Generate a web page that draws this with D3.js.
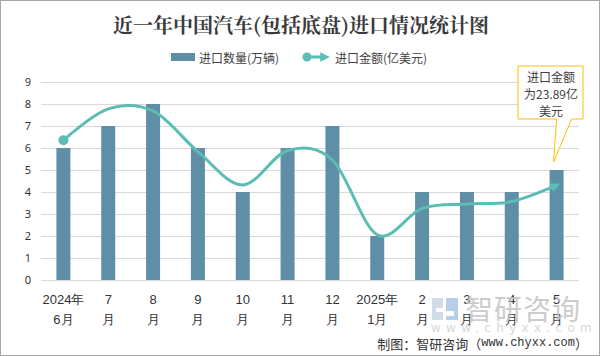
<!DOCTYPE html>
<html><head><meta charset="utf-8">
<script src="https://cdn.jsdelivr.net/npm/d3@7"></script>
<style>
html,body{margin:0;padding:0;background:#fff;}
svg{display:block;font-family:"Noto Sans CJK SC","Noto Sans",sans-serif;}
</style></head>
<body><svg id="c" width="600" height="356"></svg>
<script>
const categories = ["2024年|6月","7|月","8|月","9|月","10|月","11|月","12|月","2025年|1月","2|月","3|月","4|月","5|月"];
const quantity = [6,7,8,6,4,6,7,2,4,4,4,5];          // 进口数量(万辆)
const amount = [35.3,43.2,42.7,32.4,24.0,32.7,30.3,11.4,18.1,19.2,19.8,23.89]; // 进口金额(亿美元)
const yTicks = [0,1,2,3,4,5,6,7,8,9];

const svg = d3.select("#c");
const W = 600, H = 356;
const m = {left:41, right:21, top:82, bottom:76};
const x = d3.scaleBand().domain(categories).range([m.left, W - m.right]).paddingInner(0).paddingOuter(0);
const y = d3.scaleLinear().domain([0,9]).range([H - m.bottom, m.top]);
const y2 = d3.scaleLinear().domain([0,50]).range([H - m.bottom, m.top]);

svg.append("rect").attr("x",0.5).attr("y",0.5).attr("width",W-1).attr("height",H-1)
  .attr("fill","#fff").attr("stroke","#a6a6a6");

// title
svg.append("text").attr("x",301).attr("y",24).attr("text-anchor","middle").attr("dominant-baseline","central")
  .attr("font-size",20).attr("font-weight","bold").attr("fill","#3a3a3a")
  .attr("font-family","'Noto Serif CJK SC','DejaVu Serif',serif")
  .text("近一年中国汽车(包括底盘)进口情况统计图");

// grid
svg.append("g").selectAll("line").data(yTicks).join("line")
  .attr("x1",m.left).attr("x2",W-m.right).attr("y1",d=>y(d)+0.5).attr("y2",d=>y(d)+0.5)
  .attr("stroke","#d9d9d9").attr("stroke-width",1);

// y axis
const ya = svg.append("g").attr("transform",`translate(${m.left},0)`)
  .call(d3.axisLeft(y).tickValues(yTicks).tickSize(0).tickPadding(10));
ya.select(".domain").remove();
ya.selectAll("text").attr("font-size",11).attr("fill","#333").attr("font-family","'Noto Sans',sans-serif");

// x axis
const xa = svg.append("g").attr("transform",`translate(0,${H-m.bottom})`)
  .call(d3.axisBottom(x).tickSize(0).tickFormat(""));
xa.select(".domain").remove();
xa.selectAll(".tick").each(function(d){
  const parts = d.split("|");
  const t = d3.select(this).append("text").attr("fill","#333").attr("font-size",13).attr("text-anchor","middle");
  t.append("tspan").attr("x",0).attr("y",19).attr("dominant-baseline","central").text(parts[0]);
  t.append("tspan").attr("x",0).attr("y",39).attr("dominant-baseline","central").text(parts[1]);
});

// bars
const bw = 14;
svg.append("g").selectAll("rect").data(quantity).join("rect")
  .attr("x",(d,i)=>x(categories[i]) + x.bandwidth()/2 - bw/2)
  .attr("y",d=>y(d)).attr("width",bw).attr("height",d=>y(0)-y(d))
  .attr("fill","#5e8fa6");

// line
const lineColor = "#5cbdb3";
const defs = svg.append("defs");
defs.append("marker").attr("id","arr").attr("viewBox","0 0 10 10").attr("refX",6).attr("refY",5)
  .attr("markerWidth",3.2).attr("markerHeight",3.2).attr("orient","auto").attr("markerUnits","strokeWidth")
  .append("path").attr("d","M0,0 L10,5 L0,10 Z").attr("fill",lineColor);
const pts = amount.map((v,i)=>[x(categories[i])+x.bandwidth()/2, y2(v)]);
svg.append("path").datum(pts)
  .attr("d", d3.line().curve(d3.curveCardinal.tension(0)))
  .attr("fill","none").attr("stroke",lineColor).attr("stroke-width",3).attr("marker-end","url(#arr)");
svg.append("circle").attr("cx",pts[0][0]).attr("cy",pts[0][1]).attr("r",5).attr("fill",lineColor);

// legend
const lg = svg.append("g");
lg.append("rect").attr("x",171).attr("y",53).attr("width",24).attr("height",8).attr("fill","#5e8fa6");
lg.append("text").attr("x",199).attr("y",57).attr("dominant-baseline","central").attr("font-size",12).attr("fill","#404040").text("进口数量(万辆)");
lg.append("line").attr("x1",307).attr("x2",326).attr("y1",57).attr("y2",57).attr("stroke",lineColor).attr("stroke-width",3).attr("marker-end","url(#arr)");
lg.append("circle").attr("cx",307).attr("cy",57).attr("r",4.5).attr("fill",lineColor);
lg.append("text").attr("x",335).attr("y",57).attr("dominant-baseline","central").attr("font-size",12).attr("fill","#404040").text("进口金额(亿美元)");

// callout
const last = categories.length-1;
const tipX = pts[last][0]-3, tipY = y(quantity[last]) - 8;
const bx0 = 518, bx1 = 583, by0 = 66, by1 = 119;
svg.append("path")
  .attr("d",`M${bx0},${by0} H${bx1} V${by1} H${tipX+18} L${tipX},${tipY} L${tipX+3},${by1} H${bx0} Z`)
  .attr("fill","#fff").attr("stroke","#ffc000").attr("stroke-width",1);
const ct = svg.append("text").attr("text-anchor","middle").attr("font-size",12).attr("fill","#404040");
["进口金额","为"+amount[last]+"亿","美元"].forEach((s,i)=>{
  ct.append("tspan").attr("x",551).attr("y",76+i*17).attr("dominant-baseline","central").text(s);
});

// watermark
const wm = svg.append("g").attr("opacity",0.85);
wm.append("path").attr("d","M432,298 h11 v10 h-7 v4 h7 v8 h-11 Z").attr("fill","#c9d6e6");
wm.append("path").attr("d","M446,298 h12 v22 h-12 v-4 h8 v-5 h-8 Z").attr("fill","#a9c7e6");
wm.append("text").attr("x",465).attr("y",308).attr("dominant-baseline","central").attr("font-size",28)
  .attr("fill","#c4c4c4").attr("letter-spacing",1).text("智研咨询");
wm.append("text").attr("x",431).attr("y",328).attr("dominant-baseline","central").attr("font-size",12)
  .attr("fill","#d2d2d2").attr("letter-spacing",5.3).attr("font-family","'DejaVu Sans',sans-serif").text("www.chyxx.com");

// footer
const ft = svg.append("text").attr("x",588).attr("y",343).attr("text-anchor","end").attr("dominant-baseline","central")
  .attr("font-size",13).attr("fill","#333");
ft.append("tspan").text("制图：智研咨询（");
ft.append("tspan").attr("font-family","'Liberation Mono',monospace").attr("font-size",12).text("www.chyxx.com");
ft.append("tspan").text("）");
</script></body></html>
